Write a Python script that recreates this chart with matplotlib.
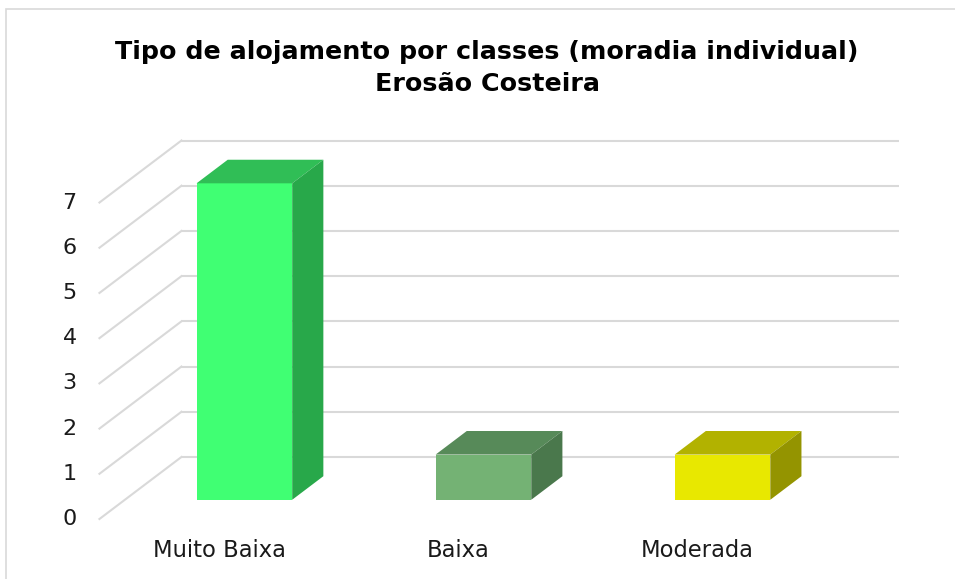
import matplotlib
matplotlib.use("Agg")
from matplotlib import pyplot as plt
from matplotlib.patches import Polygon, Rectangle

# chart data
categories = ['Muito Baixa', 'Baixa', 'Moderada']
values = [7, 1, 1]
y_ticks = [0, 1, 2, 3, 4, 5, 6, 7]

front_colors = ['#40FF73', '#74B274', '#E8E800']
top_colors = ['#30BE56', '#578A59', '#B2B200']
side_colors = ['#28A84A', '#4A784C', '#949400']

title = 'Tipo de alojamento por classes (moradia individual)\nErosão Costeira'

# fake 3d: shift of the back plane in data units
depth_dx = 0.343
depth_dy = 1.372
d_front, d_back = 0.31, 0.69
bar_w = 0.4

fig = plt.figure(figsize=(9.55, 5.79), dpi=100)
ax = fig.add_axes([0, 0, 1, 1])
ax.set_xlim(-0.916, 3.079)
ax.set_ylim(-1.327, 11.48)
ax.axis('off')

# outer border of chart area
fig.patches.append(Rectangle((0.006, -0.05), 1.1, 1.035, transform=fig.transFigure,
                             fill=False, edgecolor='#d9d9d9', linewidth=1.2))

x_left, x_right = -0.5, 2.5
grid_c = '#d9d9d9'
for t in y_ticks:
    # back wall line
    ax.plot([x_left + depth_dx, x_right + depth_dx], [t + depth_dy, t + depth_dy],
            color=grid_c, linewidth=1.5, zorder=1, solid_capstyle='butt')
    # side wall line
    ax.plot([x_left, x_left + depth_dx], [t, t + depth_dy],
            color=grid_c, linewidth=1.5, zorder=1)
    ax.text(x_left - 0.125, t, str(t), ha='center', va='center',
            fontsize=16, color='#1a1a1a')

for i, v in enumerate(values):
    x0 = i - bar_w / 2 + depth_dx * d_front
    y0 = depth_dy * d_front
    ddx = depth_dx * (d_back - d_front)
    ddy = depth_dy * (d_back - d_front)
    ax.bar(x0, v, width=bar_w, bottom=y0, align='edge', color=front_colors[i],
           zorder=3, linewidth=0)
    top = [(x0, y0 + v), (x0 + bar_w, y0 + v),
           (x0 + bar_w + ddx, y0 + v + ddy), (x0 + ddx, y0 + v + ddy)]
    side = [(x0 + bar_w, y0), (x0 + bar_w + ddx, y0 + ddy),
            (x0 + bar_w + ddx, y0 + v + ddy), (x0 + bar_w, y0 + v)]
    ax.add_patch(Polygon(top, closed=True, facecolor=top_colors[i], edgecolor='none', zorder=3))
    ax.add_patch(Polygon(side, closed=True, facecolor=side_colors[i], edgecolor='none', zorder=3))
    ax.text(i, -0.7, categories[i], ha='center', va='center', fontsize=16.3, color='#1a1a1a')

fig.text(0.51, 0.883, title, ha='center', va='center', fontsize=18.3,
         fontweight='bold', linespacing=1.4, color='black')

plt.savefig('out.png', dpi=100)
